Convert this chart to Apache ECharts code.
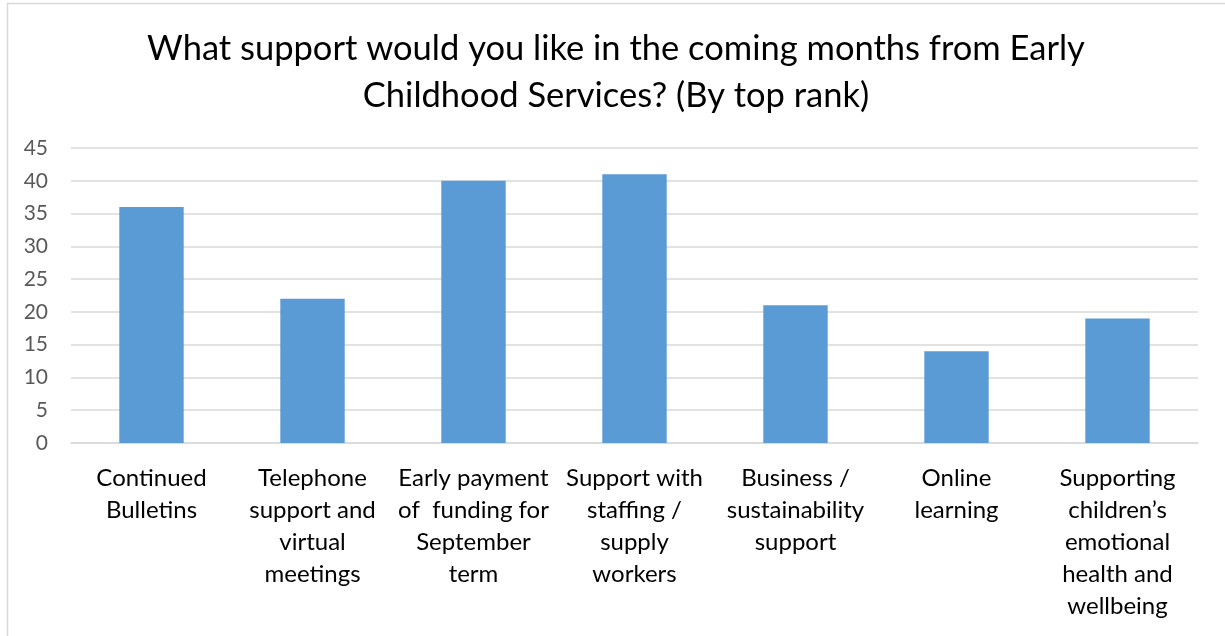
<!DOCTYPE html>
<html>
<head>
<meta charset="utf-8">
<script src="https://cdn.jsdelivr.net/npm/echarts@6/dist/echarts.min.js"></script>
<style>
  html, body { margin: 0; padding: 0; background: #fff; }
  #chart { width: 1225px; height: 636px; }
</style>
</head>
<body>
<div id="chart"></div>
<script>
// Survey responses: preferred support from Early Childhood Services (top rank)
const categories = [
  'Continued\nBulletins',
  'Telephone\nsupport and\nvirtual\nmeetings',
  'Early payment\nof  funding for\nSeptember\nterm',
  'Support with\nstaffing /\nsupply\nworkers',
  'Business /\nsustainability\nsupport',
  'Online\nlearning',
  'Supporting\nchildren\u2019s\nemotional\nhealth and\nwellbeing'
];
const topRankCounts = [36, 22, 40, 41, 21, 14, 19];
const yTicks = { min: 0, max: 45, interval: 5 };
const titleText = 'What support would you like in the coming months from Early\nChildhood Services? (By top rank)';

const FONT = 'Lato, "Open Sans", sans-serif';

const chart = echarts.init(document.getElementById('chart'), null, { renderer: 'canvas' });
chart.setOption({
  backgroundColor: '#ffffff',
  animation: false,
  graphic: [{
    type: 'rect',
    shape: { x: 7.5, y: 3.5, width: 1240, height: 660 },
    style: { fill: 'none', stroke: '#d9d9d9', lineWidth: 1.5 },
    silent: true,
    z: -1
  }, {
    type: 'text',
    x: 616,
    y: 25,
    silent: true,
    style: {
      text: titleText,
      align: 'center',
      verticalAlign: 'top',
      fontFamily: FONT,
      fontSize: 34.5,
      lineHeight: 47,
      fill: '#000000'
    }
  }],
  grid: { left: 71, right: 27, top: 148, bottom: 193, containLabel: false },
  xAxis: {
    type: 'category',
    data: categories,
    axisLine: { show: true, lineStyle: { color: '#d9d9d9', width: 1.5 } },
    axisTick: { show: false },
    axisLabel: {
      interval: 0,
      margin: 19,
      fontFamily: FONT,
      fontSize: 24,
      lineHeight: 32,
      color: '#000000',
      align: 'center'
    }
  },
  yAxis: {
    type: 'value',
    min: yTicks.min,
    max: yTicks.max,
    interval: yTicks.interval,
    axisLine: { show: false },
    axisTick: { show: false },
    splitLine: { lineStyle: { color: '#d9d9d9', width: 1.5 } },
    axisLabel: {
      margin: 23,
      fontFamily: FONT,
      fontSize: 21,
      color: '#595959'
    }
  },
  series: [{
    type: 'bar',
    data: topRankCounts,
    barWidth: '40%',
    itemStyle: { color: '#5b9bd5' }
  }]
});
</script>
</body>
</html>
